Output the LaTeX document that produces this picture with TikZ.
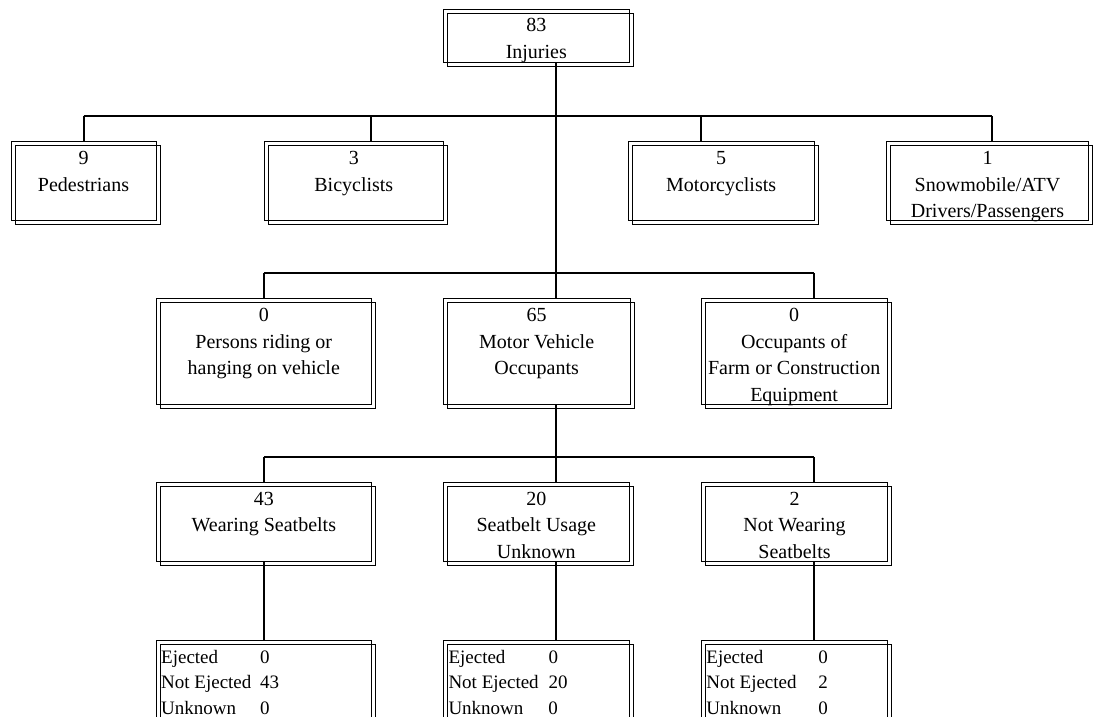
\documentclass[tikz,border=0pt]{standalone}
\usepackage{fontspec}
\setmainfont{Liberation Serif}
\usetikzlibrary{calc}

\tikzset{
  box/.style={draw, line width=1pt, inner sep=0pt, outer sep=0pt, anchor=north west},
  wire/.style={line width=2pt},
  txt/.style={font=\fontsize{20}{26.5}\selectfont, align=center, inner sep=0pt, anchor=north},
  tbl/.style={font=\fontsize{19}{25.3}\selectfont, inner sep=0pt, anchor=north west},
}

% back rectangle as a named node, plus its copy shifted 4 right and 4 down
\newcommand\dblbox[5]{%
  \node[box, minimum width={(#4)*1pt}, minimum height={(#5)*1pt}] (#1) at (#2,#3) {};
  \draw[line width=1pt] ($(#1.north west)+(4,4)$) rectangle ($(#1.south east)+(4,4)$);
}
\newcommand\fst{\rule{0pt}{15pt}}

\begin{document}
\begin{tikzpicture}[x=1pt, y=-1pt]
\useasboundingbox (0,0) rectangle (1095,717);
\clip (0,0) rectangle (1095,717);

% boxes
\dblbox{inj}{443.3}{10}{186}{52.7}
\dblbox{ped}{11}{141.7}{145}{78.6}
\dblbox{bic}{264.3}{141.7}{179}{78.6}
\dblbox{mot}{628.3}{141.7}{185.7}{78.6}
\dblbox{snow}{886.7}{141.7}{201.6}{78.6}
\dblbox{per}{156}{298.3}{215.6}{105.7}
\dblbox{mvo}{443.3}{298.3}{186.7}{105.7}
\dblbox{farm}{701}{298.3}{186.3}{105.7}
\dblbox{wear}{156}{482.5}{215.7}{79.2}
\dblbox{unk}{443.3}{482.5}{186}{79.2}
\dblbox{notw}{701.7}{482.5}{185.6}{79.2}
\dblbox{ejA}{156}{640.7}{215.7}{120}
\dblbox{ejB}{443.3}{640.7}{186}{120}
\dblbox{ejC}{701.7}{640.7}{185.6}{120}

% texts
\node[txt] (injT)  at (inj.north)  [yshift=-6.75pt] {\fst 83\\Injuries};
\node[txt] (pedT)  at (ped.north)  [yshift=-8pt] {\fst 9\\Pedestrians};
\node[txt] (bicT)  at (bic.north)  [yshift=-8pt] {\fst 3\\Bicyclists};
\node[txt] (motT)  at (mot.north)  [yshift=-8pt] {\fst 5\\Motorcyclists};
\node[txt] (snowT) at (snow.north) [yshift=-8pt] {\fst 1\\Snowmobile/ATV\\Drivers/Passengers};
\node[txt] (perT)  at (per.north)  [yshift=-8.4pt] {\fst 0\\Persons riding or\\hanging on vehicle};
\node[txt] (mvoT)  at (mvo.north)  [yshift=-8.4pt] {\fst 65\\Motor Vehicle\\Occupants};
\node[txt] (farmT) at (farm.north) [yshift=-8.4pt] {\fst 0\\Occupants of\\Farm or Construction\\Equipment};
\node[txt] (wearT) at (wear.north) [yshift=-7.6pt] {\fst 43\\Wearing Seatbelts};
\node[txt] (unkT)  at (unk.north)  [yshift=-7.6pt] {\fst 20\\Seatbelt Usage\\Unknown};
\node[txt] (notwT) at (notw.north) [yshift=-7.6pt] {\fst 2\\Not Wearing\\Seatbelts};

\node[tbl] (ejAT) at ($(ejA.north west)+(5,5)$)
  {\begin{tabular}{@{}p{99pt}@{}l@{}}Ejected & 0\\Not Ejected & 43\\Unknown & 0\end{tabular}};
\node[tbl] (ejBT) at ($(ejB.north west)+(5,5)$)
  {\begin{tabular}{@{}p{100pt}@{}l@{}}Ejected & 0\\Not Ejected & 20\\Unknown & 0\end{tabular}};
\node[tbl] (ejCT) at ($(ejC.north west)+(4.5,5)$)
  {\begin{tabular}{@{}p{112pt}@{}l@{}}Ejected & 0\\Not Ejected & 2\\Unknown & 0\end{tabular}};

% connector attachment points
\coordinate (b1) at (0,116);
\coordinate (b2) at (0,272.7);
\coordinate (b3) at (0,456.5);
\coordinate (injS)  at ($(inj.south)+(19.7,0)$);
\coordinate (bicN)  at ($(bic.north)+(17,0)$);
\coordinate (motN)  at ($(mot.north)+(-20,0)$);
\coordinate (snowN) at ($(snow.north)+(4.2,0)$);
\coordinate (farmN) at ($(farm.north)+(20,0)$);
\coordinate (mvoS)  at ($(mvo.south)+(19.4,0)$);
\coordinate (unkS)  at ($(unk.south)+(19.7,0)$);
\coordinate (notwS) at ($(notw.south)+(19.8,0)$);

% top level
\draw[wire] (injS) -- (injS |- mvo.north);
\draw[wire] (ped.north |- b1) -- (snowN |- b1);
\draw[wire] (ped.north) -- (ped.north |- b1);
\draw[wire] (bicN) -- (bicN |- b1);
\draw[wire] (motN) -- (motN |- b1);
\draw[wire] (snowN) -- (snowN |- b1);

% second level
\draw[wire] (per.north |- b2) -- (farmN |- b2);
\draw[wire] (per.north) -- (per.north |- b2);
\draw[wire] (farmN) -- (farmN |- b2);

% seatbelt level
\draw[wire] (mvoS) -- (mvoS |- unk.north);
\draw[wire] (wear.north |- b3) -- (farmN |- b3);
\draw[wire] (wear.north) -- (wear.north |- b3);
\draw[wire] (notwS |- notw.north) -- (notwS |- b3);

% ejection level
\draw[wire] (wear.south) -- (wear.south |- ejA.north);
\draw[wire] (unkS) -- (unkS |- ejB.north);
\draw[wire] (notwS) -- (notwS |- ejC.north);
\end{tikzpicture}
\end{document}
